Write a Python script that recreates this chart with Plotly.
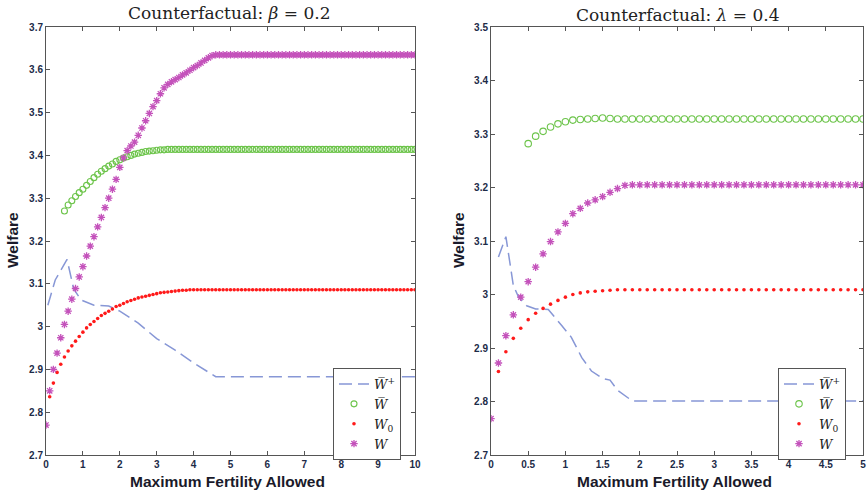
import plotly.graph_objects as go

# ---------------- data: left panel (beta = 0.2) ----------------
L_X_STAR = [round(0.1 * i, 1) for i in range(0, 101)]      # 0.0 .. 10.0
L_STAR = [
    2.770, 2.850, 2.900, 2.938, 2.974, 3.005, 3.036, 3.064, 3.089, 3.116,
    3.140, 3.165, 3.188, 3.210, 3.233, 3.255, 3.278, 3.300, 3.321, 3.344,
    3.372, 3.394, 3.411, 3.422, 3.431, 3.447, 3.464, 3.481, 3.498, 3.514,
    3.528, 3.544, 3.558, 3.566, 3.572, 3.577, 3.582, 3.588, 3.593, 3.599,
    3.605, 3.610, 3.616, 3.622, 3.628, 3.633, 3.635, 3.635, 3.635, 3.635,
    3.635, 3.635, 3.635, 3.635, 3.635, 3.635, 3.635, 3.635, 3.635, 3.635,
    3.635, 3.635, 3.635, 3.635, 3.635, 3.635, 3.635, 3.635, 3.635, 3.635,
    3.635, 3.635, 3.635, 3.635, 3.635, 3.635, 3.635, 3.635, 3.635, 3.635,
    3.635, 3.635, 3.635, 3.635, 3.635, 3.635, 3.635, 3.635, 3.635, 3.635,
    3.635, 3.635, 3.635, 3.635, 3.635, 3.635, 3.635, 3.635, 3.635, 3.635,
    3.635,
]
L_X_CIRC = [round(0.1 * i, 1) for i in range(5, 101)]      # 0.5 .. 10.0
L_CIRC = [
    3.270, 3.284, 3.294, 3.304, 3.313,
    3.321, 3.330, 3.339, 3.348, 3.356, 3.363, 3.369, 3.375, 3.380, 3.386,
    3.390, 3.394, 3.397, 3.400, 3.403, 3.405, 3.407, 3.409, 3.410, 3.411,
    3.412, 3.413, 3.413, 3.414, 3.414, 3.414, 3.414, 3.414, 3.414, 3.414,
    3.414, 3.414, 3.414, 3.414, 3.414, 3.414, 3.414, 3.414, 3.414, 3.414,
    3.414, 3.414, 3.414, 3.414, 3.414, 3.414, 3.414, 3.414, 3.414, 3.414,
    3.414, 3.414, 3.414, 3.414, 3.414, 3.414, 3.414, 3.414, 3.414, 3.414,
    3.414, 3.414, 3.414, 3.414, 3.414, 3.414, 3.414, 3.414, 3.414, 3.414,
    3.414, 3.414, 3.414, 3.414, 3.414, 3.414, 3.414, 3.414, 3.414, 3.414,
    3.414, 3.414, 3.414, 3.414, 3.414, 3.414, 3.414, 3.414, 3.414, 3.414,
    3.414,
]
L_X_DOT = [round(0.1 * i, 1) for i in range(1, 101)]       # 0.1 .. 10.0
L_DOT = [
    2.836, 2.868, 2.893, 2.912, 2.929, 2.943, 2.955, 2.966, 2.977,
    2.987, 2.997, 3.005, 3.012, 3.019, 3.026, 3.031, 3.036, 3.041, 3.047,
    3.050, 3.054, 3.058, 3.061, 3.064, 3.067, 3.069, 3.071, 3.073, 3.075,
    3.077, 3.079, 3.080, 3.081, 3.082, 3.083, 3.084, 3.085, 3.085, 3.086,
    3.086, 3.086, 3.086, 3.086, 3.086, 3.086, 3.086, 3.086, 3.086, 3.086,
    3.086, 3.086, 3.086, 3.086, 3.086, 3.086, 3.086, 3.086, 3.086, 3.086,
    3.086, 3.086, 3.086, 3.086, 3.086, 3.086, 3.086, 3.086, 3.086, 3.086,
    3.086, 3.086, 3.086, 3.086, 3.086, 3.086, 3.086, 3.086, 3.086, 3.086,
    3.086, 3.086, 3.086, 3.086, 3.086, 3.086, 3.086, 3.086, 3.086, 3.086,
    3.086, 3.086, 3.086, 3.086, 3.086, 3.086, 3.086, 3.086, 3.086, 3.086,
    3.086,
]
L_X_PLUS = [0.05, 0.25, 0.57, 0.75, 0.95, 1.3, 1.7, 2.0, 2.5, 3.0, 3.5, 4.0, 4.6, 10.0]
L_PLUS = [3.050, 3.109, 3.157, 3.088, 3.062, 3.050, 3.048, 3.036, 3.008, 2.972,
          2.945, 2.915, 2.883, 2.883]

# ---------------- data: right panel (lambda = 0.4) ----------------
R_X_STAR = [round(0.1 * i, 1) for i in range(0, 51)]       # 0.0 .. 5.0
R_STAR = [
    2.768, 2.872, 2.923, 2.962, 2.995, 3.024, 3.051, 3.076, 3.099, 3.117,
    3.133, 3.151, 3.161, 3.171, 3.177, 3.183, 3.191, 3.198, 3.204, 3.205,
    3.205, 3.205, 3.205, 3.205, 3.205, 3.205, 3.205, 3.205, 3.205, 3.205,
    3.205, 3.205, 3.205, 3.205, 3.205, 3.205, 3.205, 3.205, 3.205, 3.205,
    3.205, 3.205, 3.205, 3.205, 3.205, 3.205, 3.205, 3.205, 3.205, 3.205,
    3.205,
]
R_X_CIRC = [round(0.1 * i, 1) for i in range(5, 51)]       # 0.5 .. 5.0
R_CIRC = [
    3.282, 3.296, 3.305, 3.313, 3.319,
    3.323, 3.326, 3.327, 3.328, 3.329, 3.330, 3.329, 3.328, 3.328, 3.328,
    3.328, 3.328, 3.328, 3.328, 3.328, 3.328, 3.328, 3.328, 3.328, 3.328,
    3.328, 3.328, 3.328, 3.328, 3.328, 3.328, 3.328, 3.328, 3.328, 3.328,
    3.328, 3.328, 3.328, 3.328, 3.328, 3.328, 3.328, 3.328, 3.328, 3.328,
    3.328,
]
R_X_DOT = [round(0.1 * i, 1) for i in range(1, 51)]        # 0.1 .. 5.0
R_DOT = [
    2.856, 2.893, 2.918, 2.937, 2.953, 2.965, 2.974, 2.982, 2.989,
    2.995, 3.000, 3.003, 3.005, 3.006, 3.007, 3.008, 3.009, 3.009, 3.009,
    3.009, 3.009, 3.009, 3.009, 3.009, 3.009, 3.009, 3.009, 3.009, 3.009,
    3.009, 3.009, 3.009, 3.009, 3.009, 3.009, 3.009, 3.009, 3.009, 3.009,
    3.009, 3.009, 3.009, 3.009, 3.009, 3.009, 3.009, 3.009, 3.009, 3.009,
    3.009,
]
R_X_PLUS = [0.1, 0.2, 0.25, 0.3, 0.37, 0.48, 0.6, 0.77, 0.95, 1.08, 1.22, 1.35,
            1.5, 1.6, 1.7, 1.9, 5.0]
R_PLUS = [3.070, 3.108, 3.063, 3.017, 2.995, 2.979, 2.973, 2.972, 2.942, 2.920,
          2.882, 2.857, 2.843, 2.840, 2.821, 2.801, 2.801]

# ---------------- ticks / labels ----------------
L_XTICKS = [0, 1, 2, 3, 4, 5, 6, 7, 8, 9, 10]
L_XTICKTEXT = ["0", "1", "2", "3", "4", "5", "6", "7", "8", "9", "10"]
L_YTICKS = [2.7, 2.8, 2.9, 3.0, 3.1, 3.2, 3.3, 3.4, 3.5, 3.6, 3.7]
L_YTICKTEXT = ["2.7", "2.8", "2.9", "3", "3.1", "3.2", "3.3", "3.4", "3.5", "3.6", "3.7"]
R_XTICKS = [0, 0.5, 1, 1.5, 2, 2.5, 3, 3.5, 4, 4.5, 5]
R_XTICKTEXT = ["0", "0.5", "1", "1.5", "2", "2.5", "3", "3.5", "4", "4.5", "5"]
R_YTICKS = [2.7, 2.8, 2.9, 3.0, 3.1, 3.2, 3.3, 3.4, 3.5]
R_YTICKTEXT = ["2.7", "2.8", "2.9", "3", "3.1", "3.2", "3.3", "3.4", "3.5"]

NAMES = ["<i>W\u0305</i><sup>+</sup>", "<i>W\u0305</i>", "<i>W</i><sub>0</sub>", "<i>W</i>"]

W, H = 867, 494
BLUE = "#8797d6"
GREEN = "#6cc44a"
RED = "#ff1a1a"
MAG = "#c452bb"

fig = go.Figure()


def add_panel(xa, ya, leg, xp, yp, xc, yc, xd, yd, xs, ys, csize):
    fig.add_trace(go.Scatter(x=xp, y=yp, mode="lines", name=NAMES[0], legend=leg,
                             xaxis=xa, yaxis=ya,
                             line=dict(color=BLUE, width=1.5, dash="13px,6px")))
    fig.add_trace(go.Scatter(x=xc, y=yc, mode="markers", name=NAMES[1], legend=leg,
                             xaxis=xa, yaxis=ya,
                             marker=dict(symbol="circle-open", size=csize, color=GREEN,
                                         line=dict(width=1.1, color=GREEN))))
    fig.add_trace(go.Scatter(x=xd, y=yd, mode="markers", name=NAMES[2], legend=leg,
                             xaxis=xa, yaxis=ya,
                             marker=dict(symbol="circle", size=3.6, color=RED)))
    fig.add_trace(go.Scatter(x=xs, y=ys, mode="markers", name=NAMES[3], legend=leg,
                             xaxis=xa, yaxis=ya,
                             marker=dict(symbol="asterisk-open", size=6.2, color=MAG,
                                         line=dict(width=1.3, color=MAG))))


add_panel("x", "y", "legend", L_X_PLUS, L_PLUS, L_X_CIRC, L_CIRC, L_X_DOT, L_DOT,
          L_X_STAR, L_STAR, 6)
add_panel("x2", "y2", "legend2", R_X_PLUS, R_PLUS, R_X_CIRC, R_CIRC, R_X_DOT, R_DOT,
          R_X_STAR, R_STAR, 6.5)

tickfont = dict(family="Liberation Sans", size=10, color="#1d2b48", weight="bold")
axis_common = dict(showline=True, linecolor="#555555", linewidth=1, mirror="allticks",
                   ticks="inside", ticklen=4, tickcolor="#555555", showgrid=False,
                   zeroline=False, tickfont=tickfont, fixedrange=True,
                   automargin=False)

ydom = [1 - 455 / H, 1 - 27 / H]
legend_common = dict(y=1 - 368 / H, xanchor="left", yanchor="top",
                     bordercolor="#555555", borderwidth=1, bgcolor="white",
                     font=dict(family="DejaVu Serif", size=13, color="#222222"),
                     itemwidth=30, tracegroupgap=0)
fig.update_layout(
    width=W, height=H,
    margin=dict(l=0, r=0, t=0, b=0),
    paper_bgcolor="white", plot_bgcolor="white",
    xaxis=dict(domain=[46 / W, 415 / W], range=[0, 10], tickvals=L_XTICKS,
               ticktext=L_XTICKTEXT, anchor="y", **axis_common),
    yaxis=dict(domain=ydom, range=[2.7, 3.7], tickvals=L_YTICKS,
               ticktext=L_YTICKTEXT, anchor="x", **axis_common),
    xaxis2=dict(domain=[491 / W, 863 / W], range=[0, 5], tickvals=R_XTICKS,
                ticktext=R_XTICKTEXT, anchor="y2", **axis_common),
    yaxis2=dict(domain=ydom, range=[2.7, 3.5], tickvals=R_YTICKS,
                ticktext=R_YTICKTEXT, anchor="x2", **axis_common),
    legend=dict(x=333 / W, **legend_common),
    legend2=dict(x=778 / W, **legend_common),
    showlegend=True,
)

title_font = dict(family="DejaVu Serif", size=17, color="#222222")
label_font = dict(family="Liberation Sans", size=15.5, color="#1a1a2a", weight="bold")


def note(text, x, y, font, angle=0):
    fig.add_annotation(text=text, x=x / W, y=1 - y / H, xref="paper", yref="paper",
                       xanchor="center", yanchor="middle", showarrow=False,
                       font=font, textangle=angle)


note("Counterfactual: <i>β</i> = 0.2", 230, 13, title_font)
note("Counterfactual: <i>λ</i> = 0.4", 677, 15, title_font)
note("Maximum Fertility Allowed", 228, 481, label_font)
note("Maximum Fertility Allowed", 674, 481, label_font)
note("Welfare", 13, 240, label_font, -90)
note("Welfare", 459, 240, label_font, -90)

fig.write_html("out.html",
               config={"displayModeBar": False},
               post_script="document.body.style.margin='0px';"
                           "document.body.style.overflow='hidden';")
